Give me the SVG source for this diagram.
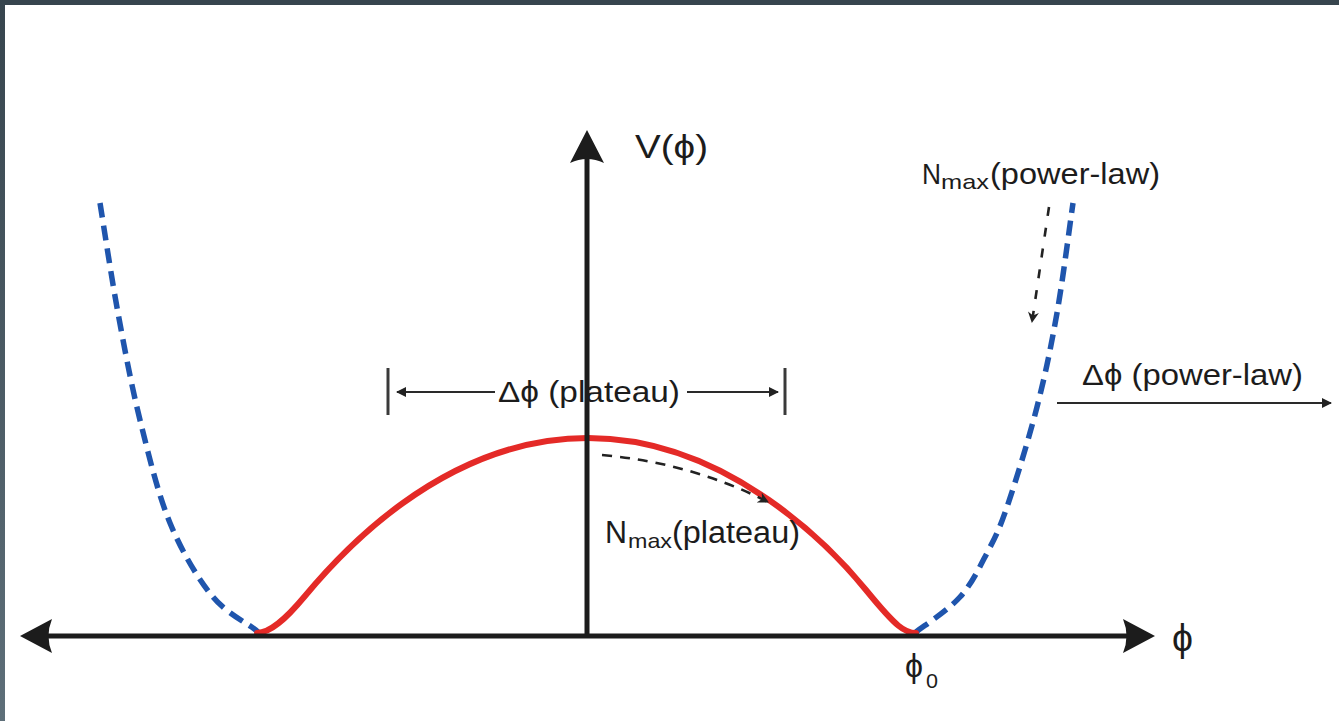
<svg xmlns="http://www.w3.org/2000/svg" width="1339" height="721" viewBox="0 0 1339 721">
<defs>
<style>
.t{font-family:"Liberation Sans","DejaVu Sans",Arial,sans-serif;fill:#1c1c1c}
.axis{stroke:#1c1c1c;stroke-width:5;fill:none}
.head{fill:#1c1c1c}
.thin{stroke:#2a2a2a;stroke-width:2;fill:none}
.bar{stroke:#3a3a3a;stroke-width:3;fill:none}
.dash{stroke:#222;stroke-width:2.6;fill:none;stroke-dasharray:10 8}
.red{stroke:#e42a27;stroke-width:6;fill:none;stroke-linecap:round}
.blue{stroke:#1f55ad;stroke-width:5.5;fill:none;stroke-dasharray:15 8}
</style>
<linearGradient id="side" x1="0" y1="0" x2="0" y2="1">
<stop offset="0" stop-color="#37454e"/>
<stop offset="1" stop-color="#5e6f79"/>
</linearGradient>
<marker id="ah" viewBox="0 0 10 10" refX="9" refY="5" markerWidth="11" markerHeight="10" markerUnits="userSpaceOnUse" orient="auto">
<path d="M0,0 L10,5 L0,10 Z" fill="#222"/>
</marker>
<marker id="ahd" viewBox="0 0 10 10" refX="9" refY="5" markerWidth="12" markerHeight="11" markerUnits="userSpaceOnUse" orient="auto">
<path d="M0,0 L10,5 L0,10 L3,5 Z" fill="#222"/>
</marker>
</defs>
<rect width="1339" height="721" fill="#ffffff"/>
<g id="frame">
<rect x="0" y="0" width="1339" height="5" fill="#37454e"/>
<rect x="0" y="0" width="5" height="721" fill="url(#side)"/>
</g>

<g id="potential-powerlaw">
<path class="blue" d="M100,203 C103,221.3 111.3,276.8 118,313 C124.7,349.2 131.3,385 140,420 C148.7,455 157.8,493.5 170,523 C182.2,552.5 198.3,579.2 213,597 C227.7,614.8 250.5,624.5 258,632"/>
<path class="blue" d="M916,632 C923.3,626.2 948.2,610.2 960,597 C971.8,583.8 979.2,568 987,553 C994.8,538 998.7,531.3 1007,507 C1015.3,482.7 1028.7,439.3 1037,407 C1045.3,374.7 1051,347 1057,313 C1063,279 1070.3,221.3 1073,203"/>
</g>

<g id="potential-plateau">
<path class="red" d="M257,633 C270,633 285,620 305,596 C335,560 440,438 588,438 C730,438 835,552 866,590 C897,628 905,633 916,633"/>
</g>

<g id="connectors">
<line class="axis" x1="42" y1="636" x2="1132" y2="636"/>
<path class="head" d="M20,636 L52,619 Q45,636 52,653 Z"/>
<path class="head" d="M1155,636 L1123,619 Q1130,636 1123,653 Z"/>
<line class="axis" x1="587" y1="638" x2="587" y2="155"/>
<path class="head" d="M587,130 L570,163 Q587,155 604,163 Z"/>
<line class="bar" x1="388" y1="368" x2="388" y2="415"/>
<line class="bar" x1="785" y1="368" x2="785" y2="415"/>
<line class="thin" x1="495" y1="392" x2="397" y2="392" marker-end="url(#ah)"/>
<line class="thin" x1="687" y1="392" x2="778" y2="392" marker-end="url(#ah)"/>
<line class="thin" x1="1057" y1="403" x2="1331" y2="403" marker-end="url(#ah)"/>
<path class="dash" d="M602,455 Q692,463 768,502" marker-end="url(#ahd)"/>
<path class="dash" style="stroke-dasharray:9 12" d="M1049,207 L1032,322" marker-end="url(#ahd)"/>
</g>

<g id="label-V">
<text class="t" x="635" y="158" font-size="34" textLength="73" lengthAdjust="spacingAndGlyphs">V(ϕ)</text>
</g>
<g id="label-nmax-powerlaw">
<text class="t" x="922" y="184" font-size="30" textLength="19" lengthAdjust="spacingAndGlyphs">N</text>
<text class="t" x="941" y="189" font-size="21" textLength="48" lengthAdjust="spacingAndGlyphs">max</text>
<text class="t" x="990" y="184" font-size="29" textLength="170" lengthAdjust="spacingAndGlyphs">(power-law)</text>
</g>
<g id="label-dphi-powerlaw">
<text class="t" x="1082" y="385" font-size="30" textLength="221" lengthAdjust="spacingAndGlyphs">Δϕ (power-law)</text>
</g>
<g id="label-dphi-plateau">
<text class="t" x="498" y="402" font-size="29" textLength="182" lengthAdjust="spacingAndGlyphs">Δϕ (plateau)</text>
</g>
<g id="label-nmax-plateau">
<text class="t" x="605" y="543" font-size="31" textLength="22" lengthAdjust="spacingAndGlyphs">N</text>
<text class="t" x="628" y="548" font-size="21" textLength="44" lengthAdjust="spacingAndGlyphs">max</text>
<text class="t" x="672" y="543" font-size="31" textLength="128" lengthAdjust="spacingAndGlyphs">(plateau)</text>
</g>
<g id="label-phi0">
<text class="t" x="905" y="677" font-size="34" textLength="18" lengthAdjust="spacingAndGlyphs">ϕ</text>
<text class="t" x="926" y="688" font-size="21" textLength="12" lengthAdjust="spacingAndGlyphs">0</text>
</g>
<g id="label-phi">
<text class="t" x="1172" y="651" font-size="38" textLength="21" lengthAdjust="spacingAndGlyphs">ϕ</text>
</g>
</svg>
